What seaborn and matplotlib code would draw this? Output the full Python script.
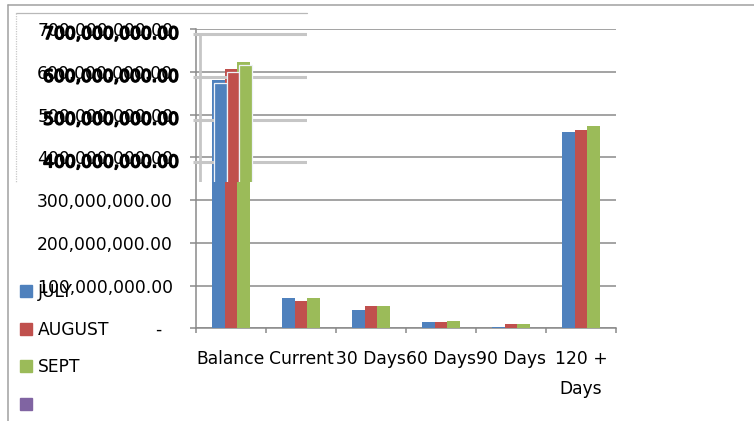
import numpy as np
import pandas as pd
import matplotlib
matplotlib.use("Agg")
import matplotlib.pyplot as plt
import matplotlib.patheffects as pe
import seaborn as sns
from matplotlib.patches import Patch
from matplotlib.lines import Line2D
from matplotlib.transforms import Bbox, TransformedBbox

# ---- data -------------------------------------------------------------
categories = ["Balance", "Current", "30 Days", "60 Days", "90 Days", "120 +\nDays"]
months = ["JULY", "AUGUST", "SEPT"]
july = [580e6, 70e6, 42e6, 14e6, 4e6, 458e6]
august = [607e6, 65e6, 53e6, 14e6, 11e6, 464e6]
sept = [623e6, 72e6, 52e6, 16e6, 10e6, 473e6]
ytick_values = [0, 100e6, 200e6, 300e6, 400e6, 500e6, 600e6, 700e6]
ytick_labels = ["-  ", "100,000,000.00", "200,000,000.00", "300,000,000.00",
                "400,000,000.00", "500,000,000.00", "600,000,000.00",
                "700,000,000.00"]
legend_labels = months + [""]

colors = ["#4F81BD", "#C0504D", "#9BBB59"]
extra_color = "#8064A2"
grid_gray = "#8a8a8a"
echo_gray = "#c6c6c6"

df = pd.DataFrame({
    "category": categories * 3,
    "month": [m for m in months for _ in categories],
    "amount": july + august + sept,
})

sns.set_style("white")
plt.rcParams["font.family"] = ["DejaVu Sans"]
plt.rcParams["text.color"] = "black"
plt.rcParams["xtick.color"] = "black"
plt.rcParams["ytick.color"] = "black"
FS = 12.3

W, H = 754, 421
fig = plt.figure(figsize=(W / 100, H / 100), dpi=100)


def px(x0, y0, x1, y1):
    return [x0 / W, 1 - y1 / H, (x1 - x0) / W, (y1 - y0) / H]


# ---- main chart ---------------------------------------------------------
ax = fig.add_axes(px(196, 29, 616, 328.3))
sns.barplot(data=df, x="category", y="amount", hue="month", order=categories,
            hue_order=months, palette=colors, width=0.543, saturation=1,
            linewidth=0, errorbar=None, legend=False, ax=ax, zorder=3)
ax.set_xlim(-0.5, 5.5)
ax.set_ylim(0, 700e6)
ax.set_xlabel("")
ax.set_ylabel("")
ax.set_yticks(ytick_values)
ax.set_yticklabels(ytick_labels, fontsize=FS)
ax.set_xticks(range(len(categories)))
ax.set_xticklabels(categories, fontsize=FS)
for lbl in ax.get_xticklabels():
    lbl.set_linespacing(1.9)
ax.set_xticks(np.arange(-0.5, len(categories), 1.0), minor=True)
ax.yaxis.grid(True, color=grid_gray, lw=1.1)
ax.set_axisbelow(True)
for side in ("top", "right"):
    ax.spines[side].set_visible(False)
for side in ("left", "bottom"):
    ax.spines[side].set_color(grid_gray)
    ax.spines[side].set_linewidth(1.1)
ax.tick_params(axis="y", left=True, length=4.3, width=1.1, color=grid_gray,
               pad=12.2, direction="out", labelcolor="black")
ax.tick_params(axis="x", which="major", bottom=True, length=0, pad=15.5,
               labelcolor="black")
ax.tick_params(axis="x", which="minor", bottom=True, length=3.6, width=1.1,
               color=grid_gray, direction="out")

# ---- offset echo of the upper-left block --------------------------------
clip = TransformedBbox(Bbox.from_extents(16 / W, 1 - 182 / H, 307 / W, 1 - 13 / H),
                       fig.transFigure)

axg = fig.add_axes(px(200, 34, 620, 333.3))
axg.set_xlim(-0.5, 5.5)
axg.set_ylim(0, 700e6)
axg.axis("off")
hl = axg.hlines(ytick_values[4:], -0.5 - 7 / 70, 5.5, color=echo_gray, lw=2.2)
hl.set_clip_on(True)
hl.set_clip_path(None)
hl.set_clip_box(clip)
vl = axg.vlines(-0.5, 0, 700e6, color=echo_gray, lw=2.0)
vl.set_clip_path(None)
vl.set_clip_box(clip)
for v, lbl in zip(ytick_values[4:], ytick_labels[4:]):
    axg.text(-0.5 - 21 / 70, v, lbl, ha="right", va="center", fontsize=FS,
             color="black", clip_on=False,
             path_effects=[pe.withStroke(linewidth=1.2, foreground="black")])

axb = fig.add_axes(px(198, 32, 618, 331.3))
sns.barplot(data=df, x="category", y="amount", hue="month", order=categories,
            hue_order=months, palette=colors, width=0.543, saturation=1,
            linewidth=0.9, edgecolor="#eef2f8", errorbar=None, legend=False,
            ax=axb)
axb.set_xlim(-0.5, 5.5)
axb.set_ylim(0, 700e6)
axb.axis("off")
for p in axb.patches:
    p.set_clip_path(None)
    p.set_clip_on(True)
    p.set_clip_box(clip)

# ---- legend ---------------------------------------------------------------
handles = [Patch(color=c) for c in colors] + [Patch(color=extra_color)]
leg = fig.legend(handles, legend_labels, loc="upper left",
                 bbox_to_anchor=(20 / W, 1 - 283 / H), frameon=False,
                 borderpad=0, borderaxespad=0, handlelength=0.72,
                 handleheight=0.72, handletextpad=0.3, labelspacing=1.15,
                 fontsize=FS, labelcolor="black")

# ---- frame lines ----------------------------------------------------------
fig.add_artist(Line2D([8 / W, 8 / W], [0, 1 - 5 / H], color="#a0a0a0", lw=1.1))
fig.add_artist(Line2D([8 / W, 1], [1 - 5 / H, 1 - 5 / H], color="#a0a0a0", lw=1.1))
fig.add_artist(Line2D([16 / W, 307 / W], [1 - 13 / H, 1 - 13 / H],
                      color="#b8b8b8", lw=0.9))
fig.add_artist(Line2D([16 / W, 16 / W], [1 - 13 / H, 1 - 182 / H],
                      color="#c8c8c8", lw=0.9, ls=(0, (1, 1))))

fig.savefig("out.png", dpi=100)
